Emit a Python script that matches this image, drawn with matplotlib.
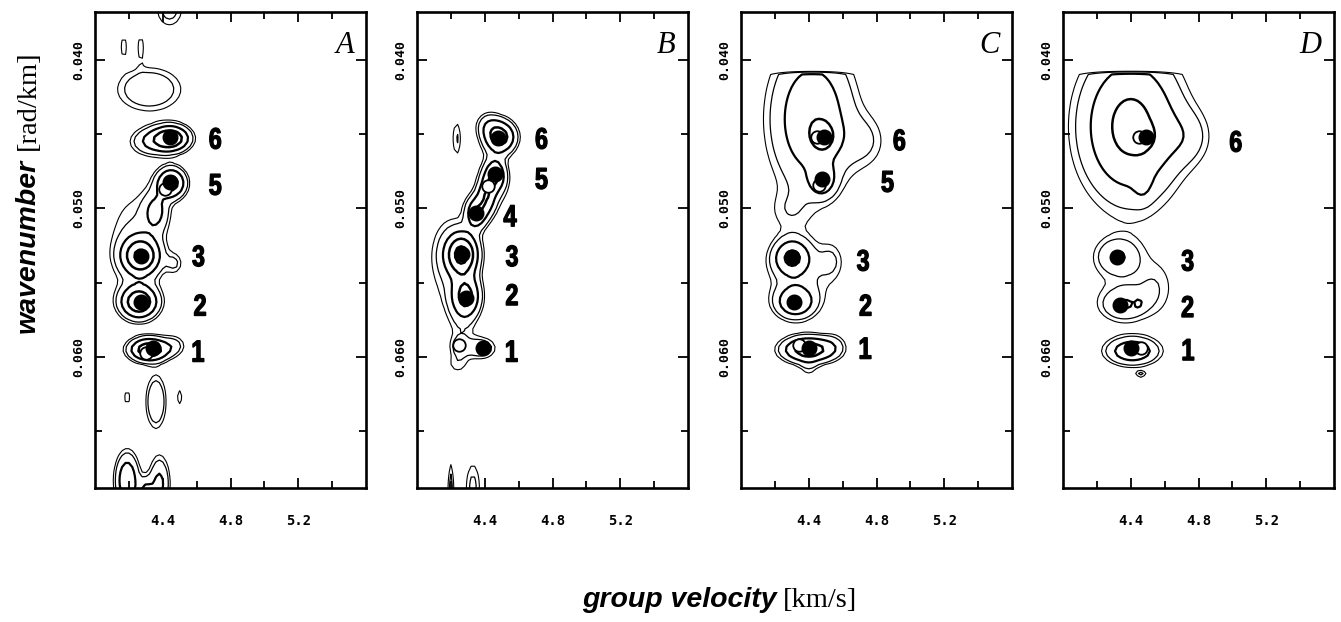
import numpy as np
import matplotlib
matplotlib.use("Agg")
import matplotlib.pyplot as plt
from matplotlib.ticker import FixedLocator
from matplotlib.textpath import TextPath
from matplotlib.patches import PathPatch
from matplotlib.font_manager import FontProperties
from matplotlib.transforms import Affine2D, ScaledTranslation

# ---------------------------------------------------------------------------
# Spectral-energy blobs for each panel: centre (v, k), widths and amplitude
# v = group velocity [km/s], k = wavenumber [rad/km]
# ---------------------------------------------------------------------------
A_v = [4.44, 4.17, 4.27, 4.32, 4.45, 4.33, 4.45, 4.36, 4.27, 4.26, 4.24, 4.47,
       4.32, 4.47, 4.36, 4.19, 4.50, 4.19, 4.38, 4.30]
A_k = [0.0366, 0.0391, 0.0391, 0.0420, 0.0453, 0.0455, 0.0483, 0.0502, 0.0532,
       0.0563, 0.0522, 0.0537, 0.0595, 0.0592, 0.0630, 0.0627, 0.0627, 0.0683,
       0.0685, 0.0690]
A_sv = [0.06, 0.02, 0.02, 0.13, 0.07, 0.08, 0.055, 0.05, 0.07, 0.07, 0.12, 0.035,
        0.075, 0.05, 0.04, 0.02, 0.02, 0.045, 0.04, 0.03]
A_sk = [0.0009, 0.0008, 0.0008, 0.0010, 0.00055, 0.0006, 0.00065, 0.0009, 0.0008,
        0.0007, 0.0025, 0.0005, 0.0005, 0.0005, 0.0012, 0.0006, 0.0006, 0.0012,
        0.0012, 0.0006]
A_amp = [0.2, 0.13, 0.13, 0.28, 0.8, 0.3, 0.7, 0.32, 0.8, 0.8, 0.17, 0.15,
         0.8, 0.15, 0.3, 0.13, 0.13, 0.5, 0.35, 0.3]

B_v = [4.49, 4.42, 4.235, 4.46, 4.41, 4.35, 4.265, 4.29, 4.19, 4.45, 4.27, 4.38,
       4.25, 4.24, 4.20, 4.33]
B_k = [0.0452, 0.0444, 0.0453, 0.0478, 0.0492, 0.0503, 0.0531, 0.0559, 0.0535,
       0.0485, 0.0578, 0.0594, 0.0593, 0.0605, 0.0690, 0.0688]
B_sv = [0.06, 0.05, 0.022, 0.04, 0.035, 0.04, 0.06, 0.055, 0.10, 0.08, 0.06, 0.06,
        0.04, 0.05, 0.015, 0.035]
B_sk = [0.0007, 0.0006, 0.0010, 0.0007, 0.0008, 0.0007, 0.0009, 0.0009, 0.0025,
        0.0015, 0.0012, 0.0005, 0.0005, 0.0005, 0.0015, 0.0014]
B_amp = [0.7, 0.2, 0.16, 0.5, 0.4, 0.5, 0.9, 0.6, 0.15, 0.12, 0.1, 0.25, 0.16,
         0.12, 0.2, 0.18]

C_v = [4.42, 4.49, 4.48, 4.74, 4.28, 4.30, 4.32, 4.36, 4.53, 4.40, 4.55, 4.40]
C_k = [0.0440, 0.0452, 0.0481, 0.0455, 0.0502, 0.0533, 0.0563, 0.0546, 0.0535,
       0.0595, 0.0592, 0.0608]
C_sv = [0.16, 0.05, 0.05, 0.09, 0.09, 0.07, 0.075, 0.16, 0.05, 0.10, 0.05, 0.04]
C_sk = [0.0032, 0.0007, 0.0007, 0.0013, 0.0010, 0.0008, 0.0007, 0.0017, 0.0008,
        0.00055, 0.0006, 0.0005]
C_amp = [0.5, 0.35, 0.35, 0.13, 0.1, 0.55, 0.5, 0.14, 0.12, 0.75, 0.1, 0.1]

D_v = [4.40, 4.47, 4.47, 4.74, 4.32, 4.36, 4.40, 4.55, 4.45, 4.41, 4.46]
D_k = [0.0445, 0.0452, 0.0482, 0.0452, 0.0532, 0.0565, 0.0549, 0.0555, 0.0564,
       0.0596, 0.0612]
D_sv = [0.19, 0.04, 0.035, 0.10, 0.08, 0.09, 0.20, 0.07, 0.015, 0.10, 0.025]
D_sk = [0.0032, 0.0005, 0.0008, 0.0013, 0.00075, 0.0007, 0.0020, 0.0012, 0.00025,
        0.0006, 0.00015]
D_amp = [0.65, 0.25, 0.15, 0.14, 0.25, 0.25, 0.1, 0.08, 0.12, 0.5, 0.2]

# upper wavenumber limit of the analysed band (None = whole range)
A_kcut, B_kcut, C_kcut, D_kcut = None, None, 0.0409, 0.0408

# Mode maxima (filled) and secondary maxima (open)
A_peak_v = [4.34, 4.27, 4.27, 4.444, 4.444]
A_peak_k = [0.0594, 0.0563, 0.0532, 0.0482, 0.0452]
A_open_v = [4.30, 4.415]
A_open_k = [0.0597, 0.0487]
A_modes = ['1', '2', '3', '5', '6']
A_lab_v = [4.61, 4.62, 4.61, 4.71, 4.71]
A_lab_k = [0.0596, 0.0565, 0.0532, 0.0484, 0.0453]

B_peak_v = [4.39, 4.29, 4.265, 4.35, 4.46, 4.48]
B_peak_k = [0.0594, 0.0560, 0.0531, 0.0503, 0.0477, 0.0453]
B_open_v = [4.25, 4.42]
B_open_k = [0.0592, 0.0485]
B_modes = ['1', '2', '3', '4', '5', '6']
B_lab_v = [4.56, 4.56, 4.56, 4.55, 4.735, 4.735]
B_lab_k = [0.0596, 0.0558, 0.0532, 0.0505, 0.0480, 0.0453]

C_peak_v = [4.40, 4.31, 4.30, 4.48, 4.49]
C_peak_k = [0.0594, 0.0563, 0.0533, 0.0480, 0.0452]
C_open_v = [4.34, 4.46, 4.45]
C_open_k = [0.0592, 0.0484, 0.0452]
C_modes = ['1', '2', '3', '5', '6']
C_lab_v = [4.735, 4.735, 4.72, 4.865, 4.935]
C_lab_k = [0.0594, 0.0565, 0.0535, 0.0482, 0.0454]

D_peak_v = [4.40, 4.335, 4.32, 4.49]
D_peak_k = [0.0594, 0.0565, 0.0533, 0.0452]
D_open_v = [4.46, 4.45]
D_open_k = [0.0594, 0.0452]
D_modes = ['1', '2', '3', '6']
D_lab_v = [4.74, 4.735, 4.735, 5.02]
D_lab_k = [0.0595, 0.0566, 0.0535, 0.0455]

panel_letters = ['A', 'B', 'C', 'D']
contour_levels = [0.1, 0.15, 0.3, 0.55, 0.85]
contour_widths = [0.8, 0.9, 1.6, 1.8, 1.8]
x_tick_labels = ['4.4', '4.8', '5.2']
y_tick_labels = ['0.040', '0.050', '0.060']

# ---------------------------------------------------------------------------
V_MIN, V_MAX = 4.0, 5.6
K_TOP, K_BOT = 0.0368, 0.0688

vg = np.arange(V_MIN, V_MAX + 1e-9, 0.02)
kg = np.arange(0.0362, 0.0696, 0.0003)
VV, KK = np.meshgrid(vg, kg)


def energy(bv, bk, bsv, bsk, bamp, kcut):
    f = np.zeros_like(VV)
    for v0, k0, sv, sk, a in zip(bv, bk, bsv, bsk, bamp):
        f += a * np.exp(-0.5 * (((VV - v0) / sv) ** 2 + ((KK - k0) / sk) ** 2))
    if kcut is not None:
        f = np.where(KK >= kcut, f, 0.0)
    return f


num_prop = FontProperties(family=['Liberation Sans', 'DejaVu Sans'], weight='bold')


def mode_label(ax, x, y, s, height_px=21, squeeze=0.78):
    """Heavy condensed digit centred on (x, y) in data coordinates."""
    tp = TextPath((0, 0), s, size=1, prop=num_prop)
    ext = tp.get_extents()
    h = ext.height
    tr = (Affine2D()
          .translate(-(ext.x0 + ext.width / 2), -(ext.y0 + h / 2))
          .scale(height_px / h * squeeze, height_px / h)
          + ScaledTranslation(x, y, ax.transData))
    ax.add_patch(PathPatch(tp, transform=tr, facecolor='black',
                           edgecolor='black', lw=0.9, zorder=6))


panels = [
    (A_v, A_k, A_sv, A_sk, A_amp, A_kcut, A_peak_v, A_peak_k, A_open_v, A_open_k,
     A_modes, A_lab_v, A_lab_k),
    (B_v, B_k, B_sv, B_sk, B_amp, B_kcut, B_peak_v, B_peak_k, B_open_v, B_open_k,
     B_modes, B_lab_v, B_lab_k),
    (C_v, C_k, C_sv, C_sk, C_amp, C_kcut, C_peak_v, C_peak_k, C_open_v, C_open_k,
     C_modes, C_lab_v, C_lab_k),
    (D_v, D_k, D_sv, D_sk, D_amp, D_kcut, D_peak_v, D_peak_k, D_open_v, D_open_k,
     D_modes, D_lab_v, D_lab_k),
]

W, H = 1341, 622
fig = plt.figure(figsize=(W / 100, H / 100), dpi=100)
fig.patch.set_facecolor('white')

lefts = [95, 417, 741, 1063]
ax_w, ax_top, ax_bot = 271, 12, 488

mono = 'DejaVu Sans Mono'

for letter, left, p in zip(panel_letters, lefts, panels):
    (bv, bk, bsv, bsk, bamp, kcut, pv, pk, ov, ok, modes, lv, lk) = p
    ax = fig.add_axes([left / W, (H - ax_bot) / H, ax_w / W, (ax_bot - ax_top) / H])
    ax.set_xlim(V_MIN, V_MAX)
    ax.set_ylim(K_BOT, K_TOP)

    f = energy(bv, bk, bsv, bsk, bamp, kcut)
    ax.contour(VV, KK, f, levels=contour_levels, colors='black',
               linewidths=contour_widths)

    ax.plot(ov, ok, 'o', ms=9, mfc='white', mec='black', mew=1.3, zorder=4)
    ax.plot(pv, pk, 'o', ms=10.5, mfc='black', mec='black', zorder=5)

    for m, x, y in zip(modes, lv, lk):
        mode_label(ax, x, y, m)

    ax.text(0.955, 0.93, letter, transform=ax.transAxes, fontsize=22,
            style='italic', family='Liberation Serif', ha='right', va='center')

    for s in ax.spines.values():
        s.set_linewidth(1.9)

    ax.xaxis.set_major_locator(FixedLocator([4.4, 4.8, 5.2]))
    ax.xaxis.set_minor_locator(FixedLocator([4.2, 4.6, 5.0, 5.4]))
    ax.set_xticklabels(x_tick_labels, family=mono, fontsize=10, fontweight='bold')
    ax.yaxis.set_major_locator(FixedLocator([0.040, 0.050, 0.060]))
    ax.yaxis.set_minor_locator(FixedLocator([0.045, 0.055, 0.065]))
    ax.set_yticklabels(y_tick_labels, family=mono, fontsize=9.5, fontweight='bold',
                       rotation=90, va='center')
    ax.tick_params(which='both', direction='in', top=True, right=True,
                   width=1.3)
    ax.tick_params(which='major', length=7)
    ax.tick_params(which='minor', length=5)
    ax.tick_params(axis='y', which='major', pad=7)
    ax.tick_params(axis='x', which='major', pad=19)

# axis titles: bold-oblique name followed by units in roman serif
fig.text(28 / W, 1 - 246 / H, 'wavenumber', rotation=90, fontsize=20.5,
         fontweight='bold', style='italic', family='Liberation Sans',
         ha='center', va='center')
fig.text(28 / W, 1 - 100 / H, '[rad/km]', rotation=90, fontsize=20.5,
         family='Liberation Serif', ha='center', va='center')
fig.text(777 / W, 1 - 607 / H, 'group velocity', fontsize=20.5,
         fontweight='bold', style='italic', family='Liberation Sans',
         ha='right', va='baseline')
fig.text(783 / W, 1 - 607 / H, '[km/s]', fontsize=20.5,
         family='Liberation Serif', ha='left', va='baseline')

fig.savefig('out.png', dpi=100, facecolor='white')
